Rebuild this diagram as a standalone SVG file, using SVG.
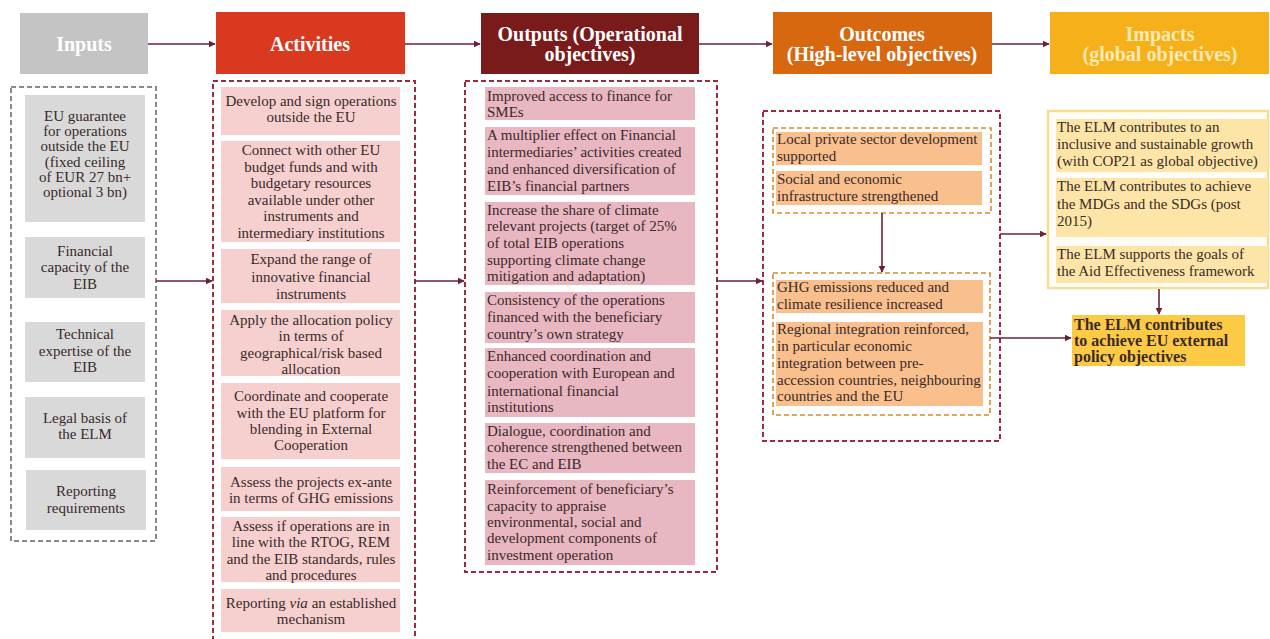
<svg xmlns="http://www.w3.org/2000/svg" width="1270" height="639" viewBox="0 0 1270 639">
<defs>
<marker id="ah" viewBox="0 0 10 10" refX="9" refY="5" markerWidth="7" markerHeight="7" markerUnits="userSpaceOnUse" orient="auto"><path d="M0,0 L10,5 L0,10 z" fill="#6b2232"/></marker>
<style>
text{font-family:"Liberation Serif","DejaVu Serif",serif;font-size:15px;fill:#3a2a2a}
.h{font-size:20px;font-weight:bold;fill:#fff;text-anchor:middle}
.c{text-anchor:middle}
.b{font-weight:bold;font-size:16px}
.con{stroke:#6b2232;stroke-width:1.6;fill:none;marker-end:url(#ah)}
.dash{fill:none;stroke:#9b2a3e;stroke-width:2;stroke-dasharray:5 3}
.in{fill:#d9d9d9}
.act{fill:#f5d0cf}
.out{fill:#e9b7c1}
.oc{fill:#f9bf8c}
.im{fill:#fce5a6}
</style>
</defs>
<rect width="1270" height="639" fill="#fff"/>

<g id="headers">
<g id="h-inputs"><rect x="20" y="13" width="128" height="61" fill="#c4c4c4"/><text class="h" x="84" y="51">Inputs</text></g>
<g id="h-activities"><rect x="216" y="12" width="189" height="62" fill="#d9391f"/><text class="h" x="310" y="51">Activities</text></g>
<g id="h-outputs"><rect x="481" y="13" width="218" height="61" fill="#7a1b1b"/><text class="h" x="590" y="41">Outputs (Operational</text><text class="h" x="590" y="61">objectives)</text></g>
<g id="h-outcomes"><rect x="773" y="12" width="219" height="62" fill="#d7680f"/><text class="h" x="882" y="41">Outcomes</text><text class="h" x="882" y="61">(High-level objectives)</text></g>
<g id="h-impacts"><rect x="1050" y="12" width="219" height="62" fill="#f6b11a"/><text class="h" x="1160" y="41" style="fill:#fde9b6">Impacts</text><text class="h" x="1160" y="61" style="fill:#fde9b6">(global objectives)</text></g>
</g>

<g id="inputs">
<rect x="11" y="87" width="145" height="454" fill="none" stroke="#8a8a8a" stroke-width="2" stroke-dasharray="5 3"/>
<g id="in1"><rect class="in" x="25" y="95" width="120" height="127"/>
<text class="c" x="85" y="121">EU guarantee</text><text class="c" x="85" y="136">for operations</text><text class="c" x="85" y="151">outside the EU</text><text class="c" x="85" y="167">(fixed  ceiling</text><text class="c" x="85" y="182">of EUR 27 bn+</text><text class="c" x="85" y="197">optional 3 bn)</text></g>
<g id="in2"><rect class="in" x="25" y="237" width="120" height="61"/>
<text class="c" x="85" y="256">Financial</text><text class="c" x="85" y="272">capacity of the</text><text class="c" x="85" y="289">EIB</text></g>
<g id="in3"><rect class="in" x="25" y="322" width="120" height="60"/>
<text class="c" x="85" y="339">Technical</text><text class="c" x="85" y="356">expertise of the</text><text class="c" x="85" y="372">EIB</text></g>
<g id="in4"><rect class="in" x="25" y="397" width="120" height="61"/>
<text class="c" x="85" y="423">Legal basis of</text><text class="c" x="85" y="439">the ELM</text></g>
<g id="in5"><rect class="in" x="26" y="470" width="120" height="60"/>
<text class="c" x="86" y="496">Reporting</text><text class="c" x="86" y="513">requirements</text></g>
</g>

<g id="activities">
<rect class="dash" x="213" y="81" width="202" height="570"/>
<g id="a1"><rect class="act" x="221" y="87" width="179" height="48"/>
<text class="c" x="311" y="106">Develop and sign  operations</text><text class="c" x="311" y="122">outside the EU</text></g>
<g id="a2"><rect class="act" x="221" y="141" width="179" height="101"/>
<text class="c" x="311" y="155">Connect with  other EU</text><text class="c" x="311" y="171.5">budget funds and with</text><text class="c" x="311" y="188">budgetary resources</text><text class="c" x="311" y="204.5">available under  other</text><text class="c" x="311" y="221">instruments and</text><text class="c" x="311" y="237.5">intermediary institutions</text></g>
<g id="a3"><rect class="act" x="221" y="249" width="179" height="54"/>
<text class="c" x="311" y="264">Expand the range of</text><text class="c" x="311" y="282">innovative financial</text><text class="c" x="311" y="299">instruments</text></g>
<g id="a4"><rect class="act" x="221" y="310" width="179" height="66"/>
<text class="c" x="311" y="325">Apply the allocation policy</text><text class="c" x="311" y="341">in terms of</text><text class="c" x="311" y="358">geographical/risk based</text><text class="c" x="311" y="374">allocation</text></g>
<g id="a5"><rect class="act" x="221" y="383" width="179" height="76"/>
<text class="c" x="311" y="401">Coordinate and cooperate</text><text class="c" x="311" y="418">with the EU platform for</text><text class="c" x="311" y="434">blending in External</text><text class="c" x="311" y="450">Cooperation</text></g>
<g id="a6"><rect class="act" x="221" y="467" width="179" height="44"/>
<text class="c" x="311" y="487">Assess the projects ex-ante</text><text class="c" x="311" y="503">in terms of GHG emissions</text></g>
<g id="a7"><rect class="act" x="221" y="517" width="179" height="65"/>
<text class="c" x="311" y="531">Assess if operations are in</text><text class="c" x="311" y="547">line with the RTOG, REM</text><text class="c" x="311" y="564">and the EIB standards, rules</text><text class="c" x="311" y="580">and procedures</text></g>
<g id="a8"><rect class="act" x="221" y="589" width="179" height="43"/>
<text class="c" x="311" y="608">Reporting <tspan font-style="italic">via</tspan> an established</text><text class="c" x="311" y="624">mechanism</text></g>
</g>

<g id="outputs">
<rect class="dash" x="465" y="81" width="252" height="491"/>
<g id="o1"><rect class="out" x="485" y="87" width="210" height="33"/>
<text x="487" y="101">Improved access to finance for</text><text x="487" y="117">SMEs</text></g>
<g id="o2"><rect class="out" x="485" y="127" width="210" height="68"/>
<text x="487" y="140">A multiplier effect on Financial</text><text x="487" y="157">intermediaries’ activities created</text><text x="487" y="174">and enhanced diversification of</text><text x="487" y="191">EIB’s financial partners</text></g>
<g id="o3"><rect class="out" x="485" y="202" width="210" height="83"/>
<text x="487" y="215">Increase the share of climate</text><text x="487" y="231">relevant projects (target of 25%</text><text x="487" y="248">of total EIB operations</text><text x="487" y="265">supporting climate change</text><text x="487" y="281">mitigation and adaptation)</text></g>
<g id="o4"><rect class="out" x="485" y="292" width="210" height="51"/>
<text x="487" y="305">Consistency of the operations</text><text x="487" y="322">financed with the beneficiary</text><text x="487" y="339">country’s own  strategy</text></g>
<g id="o5"><rect class="out" x="485" y="348" width="210" height="69"/>
<text x="487" y="361">Enhanced coordination and</text><text x="487" y="378">cooperation with European and</text><text x="487" y="396">international financial</text><text x="487" y="412">institutions</text></g>
<g id="o6"><rect class="out" x="485" y="423" width="210" height="50"/>
<text x="487" y="436">Dialogue, coordination and</text><text x="487" y="452">coherence strengthened between</text><text x="487" y="469">the EC and EIB</text></g>
<g id="o7"><rect class="out" x="485" y="480" width="210" height="85"/>
<text x="487" y="494">Reinforcement of beneficiary’s</text><text x="487" y="511">capacity to appraise</text><text x="487" y="527">environmental, social and</text><text x="487" y="543">development components of</text><text x="487" y="560">investment operation</text></g>
</g>

<g id="outcomes">
<rect class="dash" x="763" y="111" width="237" height="330"/>
<rect x="773" y="128" width="218" height="85" fill="none" stroke="#d98a2b" stroke-width="1.6" stroke-dasharray="5 3"/>
<g id="oc1"><rect class="oc" x="776" y="132" width="206" height="33"/>
<text x="777" y="144">Local private sector development</text><text x="777" y="161">supported</text></g>
<g id="oc2"><rect class="oc" x="776" y="171" width="206" height="34"/>
<text x="777" y="184">Social and economic</text><text x="777" y="201">infrastructure strengthened</text></g>
<rect x="773" y="273" width="217" height="142" fill="none" stroke="#d98a2b" stroke-width="1.6" stroke-dasharray="5 3"/>
<g id="oc3"><rect class="oc" x="776" y="280" width="207" height="33"/>
<text x="777" y="292">GHG emissions reduced and</text><text x="777" y="309">climate resilience increased</text></g>
<g id="oc4"><rect class="oc" x="776" y="322" width="207" height="84"/>
<text x="777" y="334">Regional integration reinforced,</text><text x="777" y="351">in particular economic</text><text x="777" y="368">integration between pre-</text><text x="777" y="385">accession countries, neighbouring</text><text x="777" y="401">countries and the EU</text></g>
</g>

<g id="impacts">
<rect x="1048" y="111" width="220" height="177" fill="#fffdf6" stroke="#f5de92" stroke-width="2.5"/>
<g id="im1"><rect class="im" x="1056" y="119" width="212" height="53"/>
<text x="1057" y="132">The ELM contributes to an</text><text x="1057" y="149">inclusive and sustainable growth</text><text x="1057" y="166">(with COP21 as global objective)</text></g>
<g id="im2"><rect class="im" x="1056" y="178" width="212" height="59"/>
<text x="1057" y="191">The ELM contributes to achieve</text><text x="1057" y="209">the MDGs and the SDGs (post</text><text x="1057" y="226">2015)</text></g>
<g id="im3"><rect class="im" x="1056" y="246" width="212" height="37"/>
<text x="1057" y="259">The ELM supports the goals of</text><text x="1057" y="276">the Aid Effectiveness framework</text></g>
<g id="elm"><rect x="1072" y="315" width="173" height="51" fill="#fdca45"/>
<text class="b" x="1074" y="330">The ELM contributes</text><text class="b" x="1074" y="346">to achieve EU external</text><text class="b" x="1074" y="362">policy objectives</text></g>
</g>

<g id="connectors">
<line class="con" x1="148" y1="44" x2="215" y2="44"/>
<line class="con" x1="405" y1="44" x2="480" y2="44"/>
<line class="con" x1="699" y1="44" x2="772" y2="44"/>
<line class="con" x1="992" y1="44" x2="1049" y2="44"/>
<line class="con" x1="156" y1="281" x2="212" y2="281"/>
<line class="con" x1="415" y1="281" x2="464" y2="281"/>
<line class="con" x1="717" y1="281" x2="762" y2="281"/>
<line class="con" x1="882" y1="213" x2="882" y2="272"/>
<line class="con" x1="1000" y1="234" x2="1046" y2="234"/>
<line class="con" x1="990" y1="338" x2="1071" y2="338"/>
<line class="con" x1="1159" y1="289" x2="1159" y2="314"/>
</g>
</svg>
